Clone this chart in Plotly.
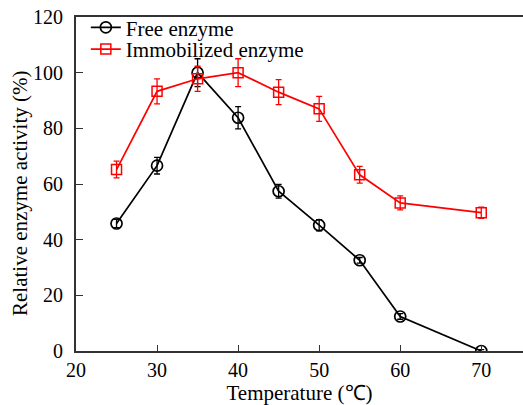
import plotly.graph_objects as go

temps = [25, 30, 35, 40, 45, 50, 55, 60, 70]
free_vals = [45.8, 66.6, 100.0, 83.8, 57.4, 45.2, 32.6, 12.4, 0.0]
free_err = [1.5, 3.0, 5.0, 4.0, 2.5, 2.0, 1.0, 1.0, 0.5]
immo_vals = [65.2, 93.3, 97.8, 100.0, 93.0, 87.0, 63.3, 53.2, 49.7]
immo_err = [3.0, 4.5, 4.5, 5.0, 4.5, 4.5, 3.0, 2.5, 2.0]

xticks = [20, 30, 40, 50, 60, 70]
yticks = [0, 20, 40, 60, 80, 100, 120]

font = "Times New Roman"
FS = 21

fig = go.Figure()
fig.add_trace(go.Scatter(
    x=temps, y=free_vals, name="Free enzyme", mode="lines+markers",
    line=dict(color="black", width=1.7),
    marker=dict(symbol="circle-open", size=11, color="black", line=dict(width=1.7)),
    error_y=dict(type="data", array=free_err, visible=True, color="black", thickness=1.3, width=3),
    cliponaxis=True, legend="legend",
))
fig.add_trace(go.Scatter(
    x=temps, y=immo_vals, name="Immobilized enzyme", mode="lines+markers",
    line=dict(color="#ff0000", width=1.7),
    marker=dict(symbol="square-open", size=10, color="#ff0000", line=dict(width=1.5)),
    error_y=dict(type="data", array=immo_err, visible=True, color="#ff0000", thickness=1.3, width=3),
    cliponaxis=True, legend="legend2",
))

leg_common = dict(xanchor="left", yanchor="middle", bgcolor="rgba(0,0,0,0)",
                  font=dict(size=FS, family=font), itemwidth=30)

fig.update_layout(
    width=523, height=405,
    margin=dict(l=76, r=0, t=17, b=54, autoexpand=False),
    paper_bgcolor="white", plot_bgcolor="white",
    font=dict(family=font, size=FS, color="black"),
    showlegend=True,
    legend=dict(x=0.022, y=0.968, **leg_common),
    legend2=dict(x=0.022, y=0.903, **leg_common),
    xaxis=dict(range=[20, 75.15], tickvals=xticks, ticks="inside", ticklen=6,
               tickwidth=1.3, tickcolor="#333", showline=True, linecolor="#333",
               linewidth=1.8, mirror=True, showgrid=False, zeroline=False,
               automargin=False, ticklabeloverflow="allow",
               title=dict(text="Temperature (℃)", font=dict(size=FS), standoff=3),
               tickfont=dict(size=20)),
    yaxis=dict(range=[0, 120], tickvals=yticks, ticks="inside", ticklen=7,
               tickwidth=1.3, tickcolor="#333", showline=True, linecolor="#333",
               linewidth=1.8, mirror=False, showgrid=False, zeroline=False,
               automargin=False, ticklabelstandoff=7, ticklabeloverflow="allow",
               tickfont=dict(size=20)),
    annotations=[dict(text="Relative enzyme activity (%)", textangle=-90,
                      xref="paper", yref="paper", x=0, y=0.47,
                      xanchor="center", yanchor="middle", xshift=-56,
                      showarrow=False, font=dict(size=21, family=font))],
)

fig.write_html("out.html", config={"displayModeBar": False},
               post_script="document.body.style.margin='0';")
